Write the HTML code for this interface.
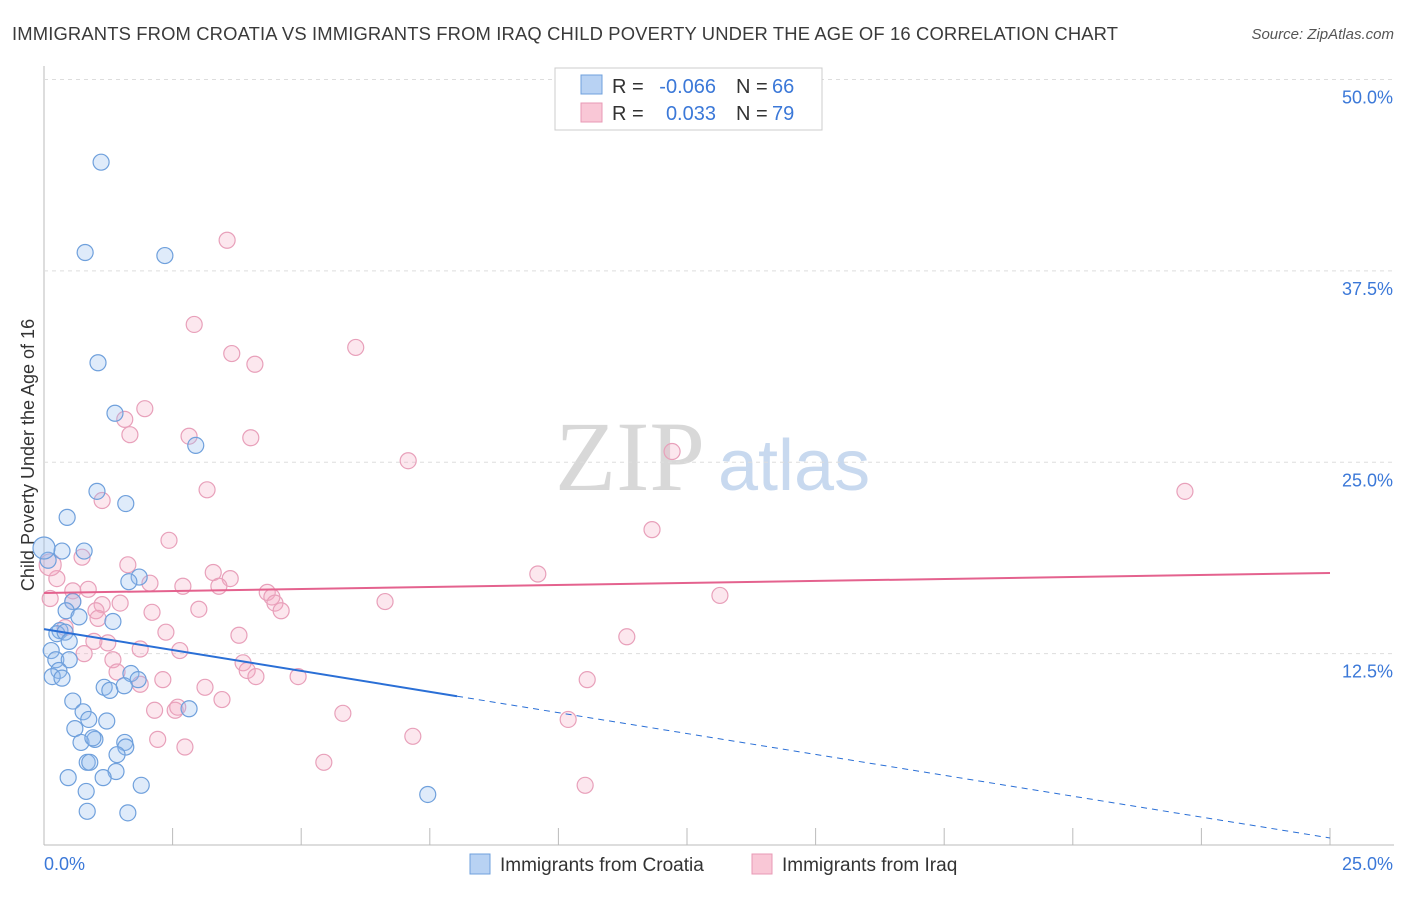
<!DOCTYPE html>
<html><head><meta charset="utf-8"><style>
body{margin:0;background:#fff;font-family:"Liberation Sans",sans-serif}
#wrap{position:relative;width:1406px;height:892px}
</style></head><body>
<div id="wrap">
<svg id="svg" width="1406" height="892" xmlns="http://www.w3.org/2000/svg">
<text x="12" y="40" font-size="18.4" letter-spacing="0.15" fill="#3a3a3a">IMMIGRANTS FROM CROATIA VS IMMIGRANTS FROM IRAQ CHILD POVERTY UNDER THE AGE OF 16 CORRELATION CHART</text>
<text x="1394" y="39" font-size="15" fill="#555" text-anchor="end" font-style="italic">Source: ZipAtlas.com</text>
<text x="34" y="455" font-size="18" fill="#333" text-anchor="middle" transform="rotate(-90 34 455)">Child Poverty Under the Age of 16</text>
<text x="555" y="490" font-size="100" fill="#d8d8d8" font-family="Liberation Serif,serif">ZIP</text>
<text x="718" y="490" font-size="72" fill="#c8d9ef">atlas</text>
<g id="grid"></g><g id="pts"></g><g id="trend"></g>
<g>
<rect x="555" y="68" width="267" height="62" fill="#fff" stroke="#ccc"/>
<rect x="581" y="75" width="21" height="19" fill="#b8d2f3" stroke="#6fa0dc"/>
<rect x="581" y="103" width="21" height="19" fill="#f9c7d6" stroke="#e89ab5"/>
<text x="612" y="93" font-size="20" fill="#333">R =</text>
<text x="716" y="93" font-size="20" fill="#3b78d8" text-anchor="end">-0.066</text>
<text x="736" y="93" font-size="20" fill="#333">N =</text>
<text x="772" y="93" font-size="20" fill="#3b78d8">66</text>
<text x="612" y="120" font-size="20" fill="#333">R =</text>
<text x="716" y="120" font-size="20" fill="#3b78d8" text-anchor="end">0.033</text>
<text x="736" y="120" font-size="20" fill="#333">N =</text>
<text x="772" y="120" font-size="20" fill="#3b78d8">79</text>
</g>
<g>
<rect x="470" y="854" width="20" height="20" fill="#b8d2f3" stroke="#6fa0dc"/>
<text x="500" y="871" font-size="19" fill="#333">Immigrants from Croatia</text>
<rect x="752" y="854" width="20" height="20" fill="#f9c7d6" stroke="#e89ab5"/>
<text x="782" y="871" font-size="19" fill="#333">Immigrants from Iraq</text>
</g>
<text x="44" y="870" font-size="18" fill="#3b78d8">0.0%</text>
<text x="1393" y="870" font-size="18" fill="#3b78d8" text-anchor="end">25.0%</text>
</svg></div>
<script>
const croatiaX=[1.11,0.80,2.35,1.05,1.38,2.95,1.03,1.59,0.45,0.35,0.78,0.08,1.85,1.65,0.56,0.43,0.68,1.34,0.31,0.25,0.41,0.49,0.14,0.23,0.49,0.29,0.16,0.35,1.69,1.83,1.17,1.28,1.56,0.56,2.82,0.76,0.87,1.22,0.60,0.72,0.99,0.95,1.57,1.59,1.42,0.84,0.89,1.40,0.47,1.15,1.89,0.82,7.46,0.84,1.63];
const croatiaY=[44.6,38.7,38.5,31.5,28.2,26.1,23.1,22.3,21.4,19.2,19.2,18.6,17.5,17.2,15.9,15.3,14.9,14.6,14.0,13.8,13.9,13.3,12.7,12.1,12.1,11.4,11.0,10.9,11.2,10.8,10.3,10.1,10.4,9.4,8.9,8.7,8.2,8.1,7.6,6.7,6.9,7.0,6.7,6.4,5.9,5.4,5.4,4.8,4.4,4.4,3.9,3.5,3.3,2.2,2.1];
const iraqX=[3.56,2.92,6.06,3.65,4.10,1.96,1.57,1.67,2.82,4.02,12.21,7.08,3.17,22.18,1.13,11.82,2.43,0.74,1.63,9.60,3.29,3.62,2.06,0.25,2.70,3.40,0.86,0.56,4.34,4.43,13.14,0.12,0.56,6.63,1.48,4.49,1.13,1.01,4.61,3.01,2.10,1.05,0.41,2.37,3.79,11.33,0.97,1.24,1.87,2.64,0.78,1.34,3.87,3.95,1.42,4.12,4.94,2.31,10.56,1.87,3.13,3.46,2.15,2.55,2.60,5.81,10.19,7.17,2.21,2.74,5.44,10.52];
const iraqY=[39.5,34.0,32.5,32.1,31.4,28.5,27.8,26.8,26.7,26.6,25.7,25.1,23.2,23.1,22.5,20.6,19.9,18.8,18.3,17.7,17.8,17.4,17.1,17.4,16.9,16.9,16.7,16.6,16.5,16.2,16.3,16.1,15.9,15.9,15.8,15.8,15.7,15.3,15.3,15.4,15.2,14.8,14.2,13.9,13.7,13.6,13.3,13.2,12.8,12.7,12.5,12.1,11.9,11.4,11.3,11.0,11.0,10.8,10.8,10.5,10.3,9.5,8.8,8.8,9.0,8.6,8.2,7.1,6.9,6.4,5.4,3.9];
const croatiaBig=[[0,19.4]];
const iraqBig=[[0.12,18.3]];
const croatiaTrend=[14.1,0.46];
const iraqTrend=[16.46,17.77];
const yTicks=[12.5,25,37.5,50];
const yTickLabels=["12.5%","25.0%","37.5%","50.0%"];
const xTicks=[0,2.5,5,7.5,10,12.5,15,17.5,20,22.5,25];
const NS="http://www.w3.org/2000/svg";
const X=v=>44+v*51.44, Y=v=>845-v*15.31;
function mk(t,a,p){const e=document.createElementNS(NS,t);for(const k in a)e.setAttribute(k,a[k]);p.appendChild(e);return e;}
const grid=document.getElementById('grid');
mk('line',{x1:44,y1:66,x2:44,y2:845,stroke:'#bbb'},grid);
mk('line',{x1:44,y1:845,x2:1394,y2:845,stroke:'#bbb'},grid);
yTicks.forEach((t,i)=>{
 const l=mk('line',{x1:44,y1:Y(t),x2:1394,y2:Y(t),stroke:'#ddd','stroke-dasharray':'4,4'},grid);
 
 
 const tx=mk('text',{x:1393,y:Y(t)+24,'font-size':18,fill:'#3b78d8','text-anchor':'end'},grid);
 tx.textContent=yTickLabels[i];
 
 
});
xTicks.forEach(t=>{
 const l=mk('line',{x1:X(t),y1:828,x2:X(t),y2:845,stroke:'#bbb'},grid);
 
 
});
const pts=document.getElementById('pts');
function dot(x,y,r,f,s,name){const c=mk('circle',{cx:X(x),cy:Y(y),r:r,fill:f,stroke:s,'stroke-width':1.2},pts);
 
 }
iraqX.forEach((x,i)=>dot(x,iraqY[i],8,'rgba(245,170,195,0.28)','#e8a0ba','iraq-point'));
iraqBig.forEach(p=>dot(p[0],p[1],11,'rgba(245,170,195,0.35)','#e8a0ba','iraq-point'));
croatiaX.forEach((x,i)=>dot(x,croatiaY[i],8,'rgba(150,190,240,0.3)','#6fa0dc','croatia-point'));
croatiaBig.forEach(p=>dot(p[0],p[1],11,'rgba(150,190,240,0.35)','#6fa0dc','croatia-point'));
const tr=document.getElementById('trend');
const sy=v=>croatiaTrend[0]+(croatiaTrend[1]-croatiaTrend[0])*v/25;
let l=mk('line',{x1:X(0),y1:Y(sy(0)),x2:X(8.03),y2:Y(sy(8.03)),stroke:'#2a6fd6','stroke-width':2},tr);


l=mk('line',{x1:X(8.03),y1:Y(sy(8.03)),x2:X(25),y2:Y(sy(25)),stroke:'#2a6fd6','stroke-width':1,'stroke-dasharray':'6,5'},tr);


l=mk('line',{x1:X(0),y1:Y(iraqTrend[0]),x2:X(25),y2:Y(iraqTrend[1]),stroke:'#e4628e','stroke-width':2},tr);


</script>
</body></html>
